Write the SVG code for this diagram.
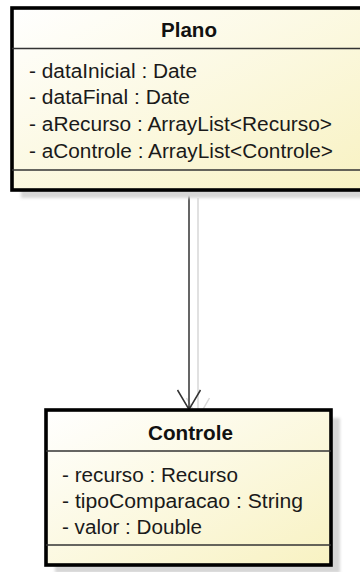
<svg xmlns="http://www.w3.org/2000/svg" width="360" height="572" viewBox="0 0 360 572">
  <style>
    .box { stroke: #000; stroke-width: 3.6; }
    .shadow { fill: #d6d6d6; filter: url(#soft); }
    .sep { stroke: #333; stroke-width: 1.5; }
    .name { font-family: "Liberation Sans", Arial, sans-serif; font-size: 19.5px; font-weight: bold; fill: #111; text-anchor: middle; }
    .attr { font-family: "Liberation Sans", Arial, sans-serif; font-size: 19.5px; fill: #1a1a1a; }
    .link { stroke: #333; stroke-width: 1.5; fill: none; }
    .link-shadow { stroke: #d8d8d8; stroke-width: 1.5; fill: none; }
  </style>
  <defs>
    <linearGradient id="classFill" x1="0" y1="0" x2="1" y2="1">
      <stop offset="0" stop-color="#ffffff"/>
      <stop offset="1" stop-color="#f8f2c2"/>
    </linearGradient>
    <filter id="soft" x="-5%" y="-5%" width="110%" height="110%">
      <feGaussianBlur stdDeviation="1.5"/>
    </filter>
  </defs>

  <rect width="360" height="572" fill="#ffffff"/>

  <!-- connector shadow and association arrow -->
  <g id="connectors">
    <path class="link-shadow" d="M198 198 V418 M186.5 398 L198 418 L209.5 398"/>
    <path class="link" d="M189 190 V409 M177.5 390 L189 409.5 L200.5 390"/>
  </g>

  <g id="Plano">
    <rect class="shadow" x="21" y="16" width="354" height="182"/>
    <rect class="box" x="12" y="8" width="354" height="182" fill="url(#classFill)"/>
    <line class="sep" x1="12" y1="48.5" x2="366" y2="48.5"/>
    <line class="sep" x1="12" y1="170" x2="366" y2="170"/>
    <text class="name" x="189" y="37" textLength="56" lengthAdjust="spacingAndGlyphs">Plano</text>
    <text class="attr" x="29" y="77.5" textLength="168" lengthAdjust="spacingAndGlyphs">- dataInicial : Date</text>
    <text class="attr" x="29" y="104" textLength="161" lengthAdjust="spacingAndGlyphs">- dataFinal : Date</text>
    <text class="attr" x="29" y="131" textLength="303" lengthAdjust="spacingAndGlyphs">- aRecurso : ArrayList&lt;Recurso&gt;</text>
    <text class="attr" x="29" y="157.5" textLength="304" lengthAdjust="spacingAndGlyphs">- aControle : ArrayList&lt;Controle&gt;</text>
  </g>

  <g id="Controle">
    <rect class="shadow" x="55" y="418" width="285" height="155"/>
    <rect class="box" x="46" y="410" width="285" height="155" fill="url(#classFill)"/>
    <line class="sep" x1="46" y1="451" x2="331" y2="451"/>
    <line class="sep" x1="46" y1="545" x2="331" y2="545"/>
    <text class="name" x="190.5" y="440" textLength="85" lengthAdjust="spacingAndGlyphs">Controle</text>
    <text class="attr" x="62" y="482" textLength="176" lengthAdjust="spacingAndGlyphs">- recurso : Recurso</text>
    <text class="attr" x="62" y="508" textLength="241" lengthAdjust="spacingAndGlyphs">- tipoComparacao : String</text>
    <text class="attr" x="62" y="534" textLength="140" lengthAdjust="spacingAndGlyphs">- valor : Double</text>
  </g>
</svg>
